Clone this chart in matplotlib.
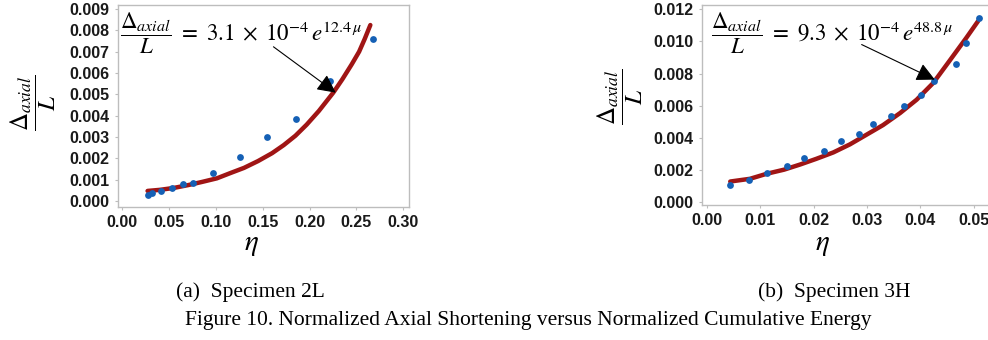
import matplotlib
matplotlib.use("Agg")
import matplotlib.pyplot as plt

plt.rcParams['mathtext.fontset'] = 'stix'

# Specimen 2L: measured points and fitted curve
eta_2l = [0.0279, 0.0318, 0.041, 0.0536, 0.0646, 0.0757, 0.0971, 0.126,
          0.155, 0.1857, 0.2214, 0.2675]
strain_2l = [0.000295, 0.000375, 0.000455, 0.00061, 0.00078, 0.00086, 0.00133,
             0.00205, 0.00299, 0.00386, 0.00563, 0.00758]
fit_eta_2l = [0.027, 0.04, 0.055, 0.07, 0.085, 0.101, 0.115, 0.13, 0.145,
              0.16, 0.1725, 0.185, 0.197, 0.21, 0.2254, 0.235, 0.245, 0.253,
              0.259, 0.265]
fit_strain_2l = [0.00047, 0.00052, 0.00061, 0.00074, 0.00089, 0.00106, 0.0013,
                 0.00155, 0.00187, 0.00224, 0.00262, 0.00306, 0.00358, 0.00422,
                 0.00508, 0.0057, 0.0064, 0.007, 0.0076, 0.00825]

# Specimen 3H
eta_3h = [0.00442, 0.00791, 0.01134, 0.01508, 0.0182, 0.02194, 0.02507,
          0.02855, 0.03105, 0.03447, 0.03691, 0.04009, 0.04258, 0.04663,
          0.0485, 0.051]
strain_3h = [0.00108, 0.00139, 0.00181, 0.00225, 0.00277, 0.00318, 0.00381,
             0.00424, 0.00487, 0.00539, 0.00599, 0.00666, 0.00757, 0.00861,
             0.00988, 0.01144]
fit_eta_3h = [0.0044, 0.0081, 0.0112, 0.0145, 0.0175, 0.0205, 0.0237, 0.0268,
              0.0299, 0.033, 0.0362, 0.0393, 0.0424, 0.0455, 0.0486, 0.0508]
fit_strain_3h = [0.00129, 0.00146, 0.00177, 0.00203, 0.00235, 0.0027, 0.0031,
                 0.0036, 0.0042, 0.0048, 0.00555, 0.00638, 0.00742, 0.00882,
                 0.01023, 0.01127]

ticks_2l_x = [0.00, 0.05, 0.10, 0.15, 0.20, 0.25, 0.30]
ticks_2l_y = [0.000, 0.001, 0.002, 0.003, 0.004, 0.005, 0.006, 0.007, 0.008, 0.009]
ticks_3h_x = [0.00, 0.01, 0.02, 0.03, 0.04, 0.05]
ticks_3h_y = [0.000, 0.002, 0.004, 0.006, 0.008, 0.010, 0.012]

eq_2l = r'$\dfrac{\Delta_{axial}}{L}\ =\ 3.1\;\times\;10^{-4}\,e^{12.4\,\mu}$'
eq_3h = r'$\dfrac{\Delta_{axial}}{L}\ =\ 9.3\;\times\;10^{-4}\,e^{48.8\,\mu}$'
ylab = r'$\dfrac{\Delta_{axial}}{L}$'

blue = '#1560B5'
red = '#A01515'
W, H = 988, 340

fig = plt.figure(figsize=(9.88, 3.4), dpi=100)
ax1 = fig.add_axes([118 / W, 1 - 206.7 / H, 291 / W, 201.7 / H])
ax2 = fig.add_axes([701.7 / W, 1 - 205 / H, 298.3 / W, 200 / H])


def style(ax, xt, yt, xfmt, yfmt, xlim, ylim):
    ax.set_xlim(*xlim)
    ax.set_ylim(*ylim)
    ax.set_xticks(xt)
    ax.set_yticks(yt)
    ax.set_xticklabels([xfmt.format(v) for v in xt])
    ax.set_yticklabels([yfmt.format(v) for v in yt])
    for s in ax.spines.values():
        s.set_color('#BDBDBD')
        s.set_linewidth(1.0)
    ax.tick_params(length=2.5, width=0.8, color='#BDBDBD', pad=3.5,
                   labelsize=11.5, labelcolor='#1a1a1a')
    for lab in ax.get_xticklabels() + ax.get_yticklabels():
        lab.set_fontfamily('Liberation Sans')
        lab.set_fontweight('bold')


ax1.plot(fit_eta_2l, fit_strain_2l, color=red, lw=3.2, zorder=2, solid_capstyle='round')
ax1.scatter(eta_2l, strain_2l, s=24, color=blue, zorder=3, linewidths=0)
style(ax1, ticks_2l_x, ticks_2l_y, '{:.2f}', '{:.3f}', (-0.0046, 0.3063), (-0.00027, 0.00919))
ax1.annotate('', xy=(0.228, 0.00508), xytext=(0.1615, 0.00723),
             arrowprops=dict(arrowstyle='-|>', mutation_scale=28, lw=0.8,
                             color='black', shrinkA=0, shrinkB=0))

ax2.plot(fit_eta_3h, fit_strain_3h, color=red, lw=3.2, zorder=2, solid_capstyle='round')
ax2.scatter(eta_3h, strain_3h, s=24, color=blue, zorder=3, linewidths=0)
style(ax2, ticks_3h_x, ticks_3h_y, '{:.2f}', '{:.3f}', (-0.00094, 0.0549), (-0.00017, 0.01227))
ax2.annotate('', xy=(0.0427, 0.00763), xytext=(0.029, 0.00981),
             arrowprops=dict(arrowstyle='-|>', mutation_scale=28, lw=0.8,
                             color='black', shrinkA=0, shrinkB=0))

# equations
fig.text(120 / W, 1 - 33 / H, eq_2l, fontsize=16.5, ha='left', va='center')
fig.text(711 / W, 1 - 33 / H, eq_3h, fontsize=16.5, ha='left', va='center')

# axis labels
fig.text(33 / W, 1 - 103 / H, ylab, fontsize=18, rotation=90, ha='center', va='center')
fig.text(620 / W, 1 - 97 / H, ylab, fontsize=18, rotation=90, ha='center', va='center')
fig.text(251 / W, 1 - 244 / H, r'$\eta$', fontsize=21, ha='center', va='center')
fig.text(822 / W, 1 - 244 / H, r'$\eta$', fontsize=21, ha='center', va='center')

# captions
fig.text(250 / W, 1 - 292 / H, '(a)  Specimen 2L', fontsize=15.5,
         family='Liberation Serif', ha='center', va='center')
fig.text(834 / W, 1 - 292 / H, '(b)  Specimen 3H', fontsize=15.5,
         family='Liberation Serif', ha='center', va='center')
fig.text(528 / W, 1 - 320 / H,
         'Figure 10. Normalized Axial Shortening versus Normalized Cumulative Energy',
         fontsize=15.5, family='Liberation Serif', ha='center', va='center')

fig.savefig('out.png', dpi=100)
